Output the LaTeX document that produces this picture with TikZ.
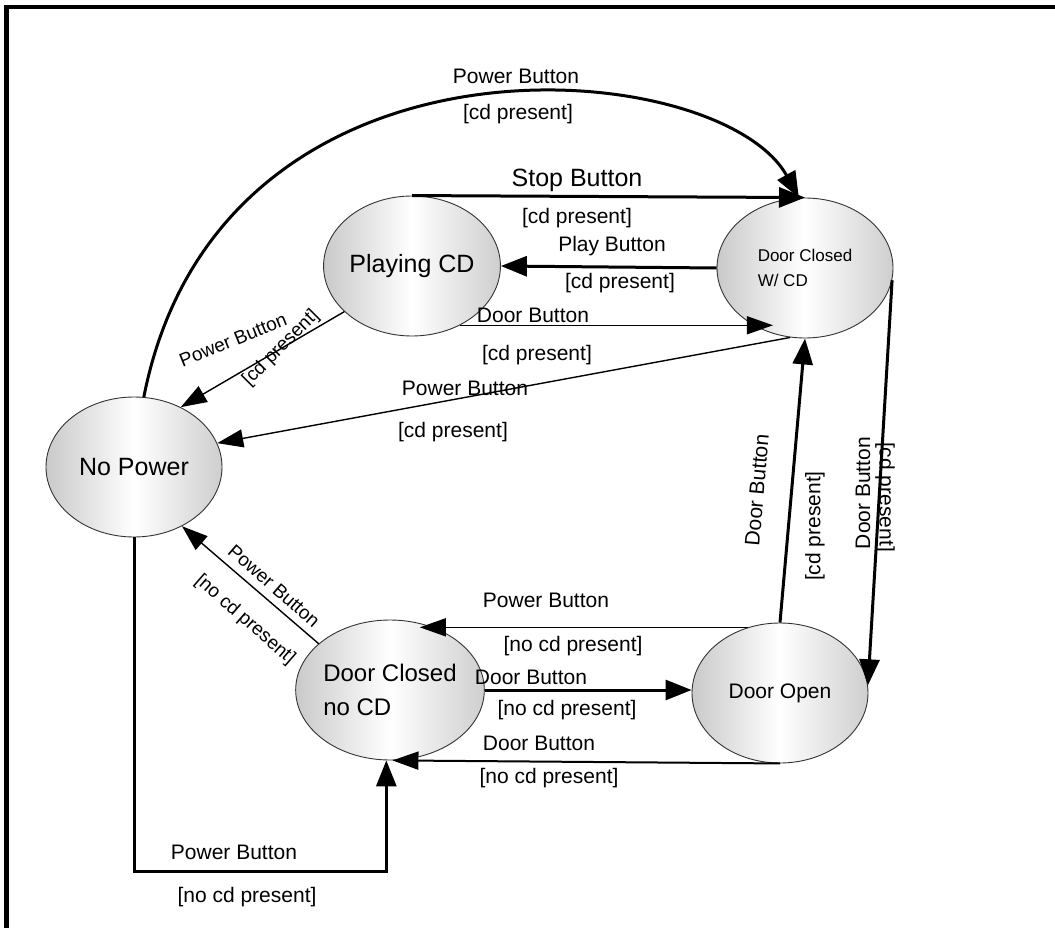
\documentclass[tikz,border=0pt]{standalone}
\usepackage{fontspec}
\setmainfont{Liberation Sans}
\usetikzlibrary{arrows.meta,shapes.geometric}
\begin{document}
\begin{tikzpicture}[x=1pt,y=-1pt,
  state/.style={ellipse,draw=black!80,line width=0.9pt,
    left color=gray!42,right color=gray!38,middle color=white,
    minimum width=176pt,minimum height=140pt,inner sep=0pt,
    font=\fontsize{25}{29}\selectfont},
  lbl/.style={inner sep=0pt,font=\fontsize{21}{24}\selectfont},
  heavy/.style={line width=3pt,-{Triangle[length=26pt,width=20pt]}},
  light/.style={line width=1.4pt,-{Triangle[length=26pt,width=18pt]}}]

\useasboundingbox (0,0) rectangle (1055,928);

% frame (top and left edges)
\draw[line width=4.2pt] (6.5,928) -- (6.5,7) -- (1055,7);

% states
\node[state] (pcd) at (412,266) {Playing CD};
\node[state,align=left,font=\fontsize{17}{25}\selectfont] (dc) at (805,268) {Door Closed\\W/ CD};
\node[state] (np) at (134,467) {No Power};
\node[state,align=left,font=\fontsize{24}{34}\selectfont] (dcn) at (390,690) {Door Closed\\no CD};
\node[state,font=\fontsize{21}{25}\selectfont] (do) at (780,693) {Door Open};

% transitions
\draw[heavy] (np.82) .. controls (220,10) and (720,55) .. (dc.95);
\draw[heavy] (pcd.north) -- (dc.north);
\draw[heavy] (dc.west) -- (pcd.east);
\draw[light] (pcd.-51.5) -- (pcd.-51.5 -| dc.244);
\draw[light] (pcd.214) -- (np.52);
\draw[light] (dc.258) -- (np.16);
\draw[heavy] (do.north) -- (dc.south);
\draw[heavy] (dc.-8) -- (do.5);
\draw[light] (do.116) -- (do.116 -| dcn.66);
\draw[heavy] (dcn.east) -- (dcn.east -| do.west);
\draw[light,line width=2pt] (do.south) -- (dcn.-88);
\draw[heavy] (np.south) -- ++(0,334) -| (dcn.-93);
\draw[light] (dcn.147) -- (np.-51);

% transition labels
\node[lbl] (t1a) at (516,76) {Power Button};
\node[lbl] (t1b) at (518,114) {[cd present]};
\node[lbl,font=\fontsize{25}{29}\selectfont] (t2a) at (577,180) {Stop Button};
\node[lbl] (t2b) at (577,218) {[cd present]};
\node[lbl] (t3a) at (612,246) {Play Button};
\node[lbl] (t3b) at (620,283) {[cd present]};
\node[lbl] (t4a) at (533,315) {Door Button};
\node[lbl] (t4b) at (537,355) {[cd present]};
\node[lbl,rotate=22,font=\fontsize{19}{22}\selectfont] (t5a) at (233,340) {Power Button};
\node[lbl,rotate=45,font=\fontsize{19}{22}\selectfont] (t5b) at (281,348) {[cd present]};
\node[lbl] (t6a) at (465,388) {Power Button};
\node[lbl] (t6b) at (453,432) {[cd present]};
\node[lbl,rotate=85] (t7a) at (757,490) {Door Button};
\node[lbl,rotate=90] (t7b) at (815,526) {[cd present]};
\node[lbl,rotate=90] (t8a) at (863,493) {Door Button};
\node[lbl,rotate=-90] (t8b) at (885,497) {[cd present]};
\node[lbl] (t9a) at (546,600) {Power Button};
\node[lbl] (t9b) at (573,646) {[no cd present]};
\node[lbl] (t10a) at (531,677) {Door Button};
\node[lbl] (t10b) at (567,710) {[no cd present]};
\node[lbl] (t11a) at (539,743) {Door Button};
\node[lbl] (t11b) at (549,778) {[no cd present]};
\node[lbl] (t12a) at (234,852) {Power Button};
\node[lbl] (t12b) at (247,897) {[no cd present]};
\node[lbl,rotate=-41,font=\fontsize{19}{22}\selectfont] (t13a) at (274,586) {Power Button};
\node[lbl,rotate=-41,font=\fontsize{19}{22}\selectfont] (t13b) at (245,620) {[no cd present]};
\end{tikzpicture}
\end{document}
